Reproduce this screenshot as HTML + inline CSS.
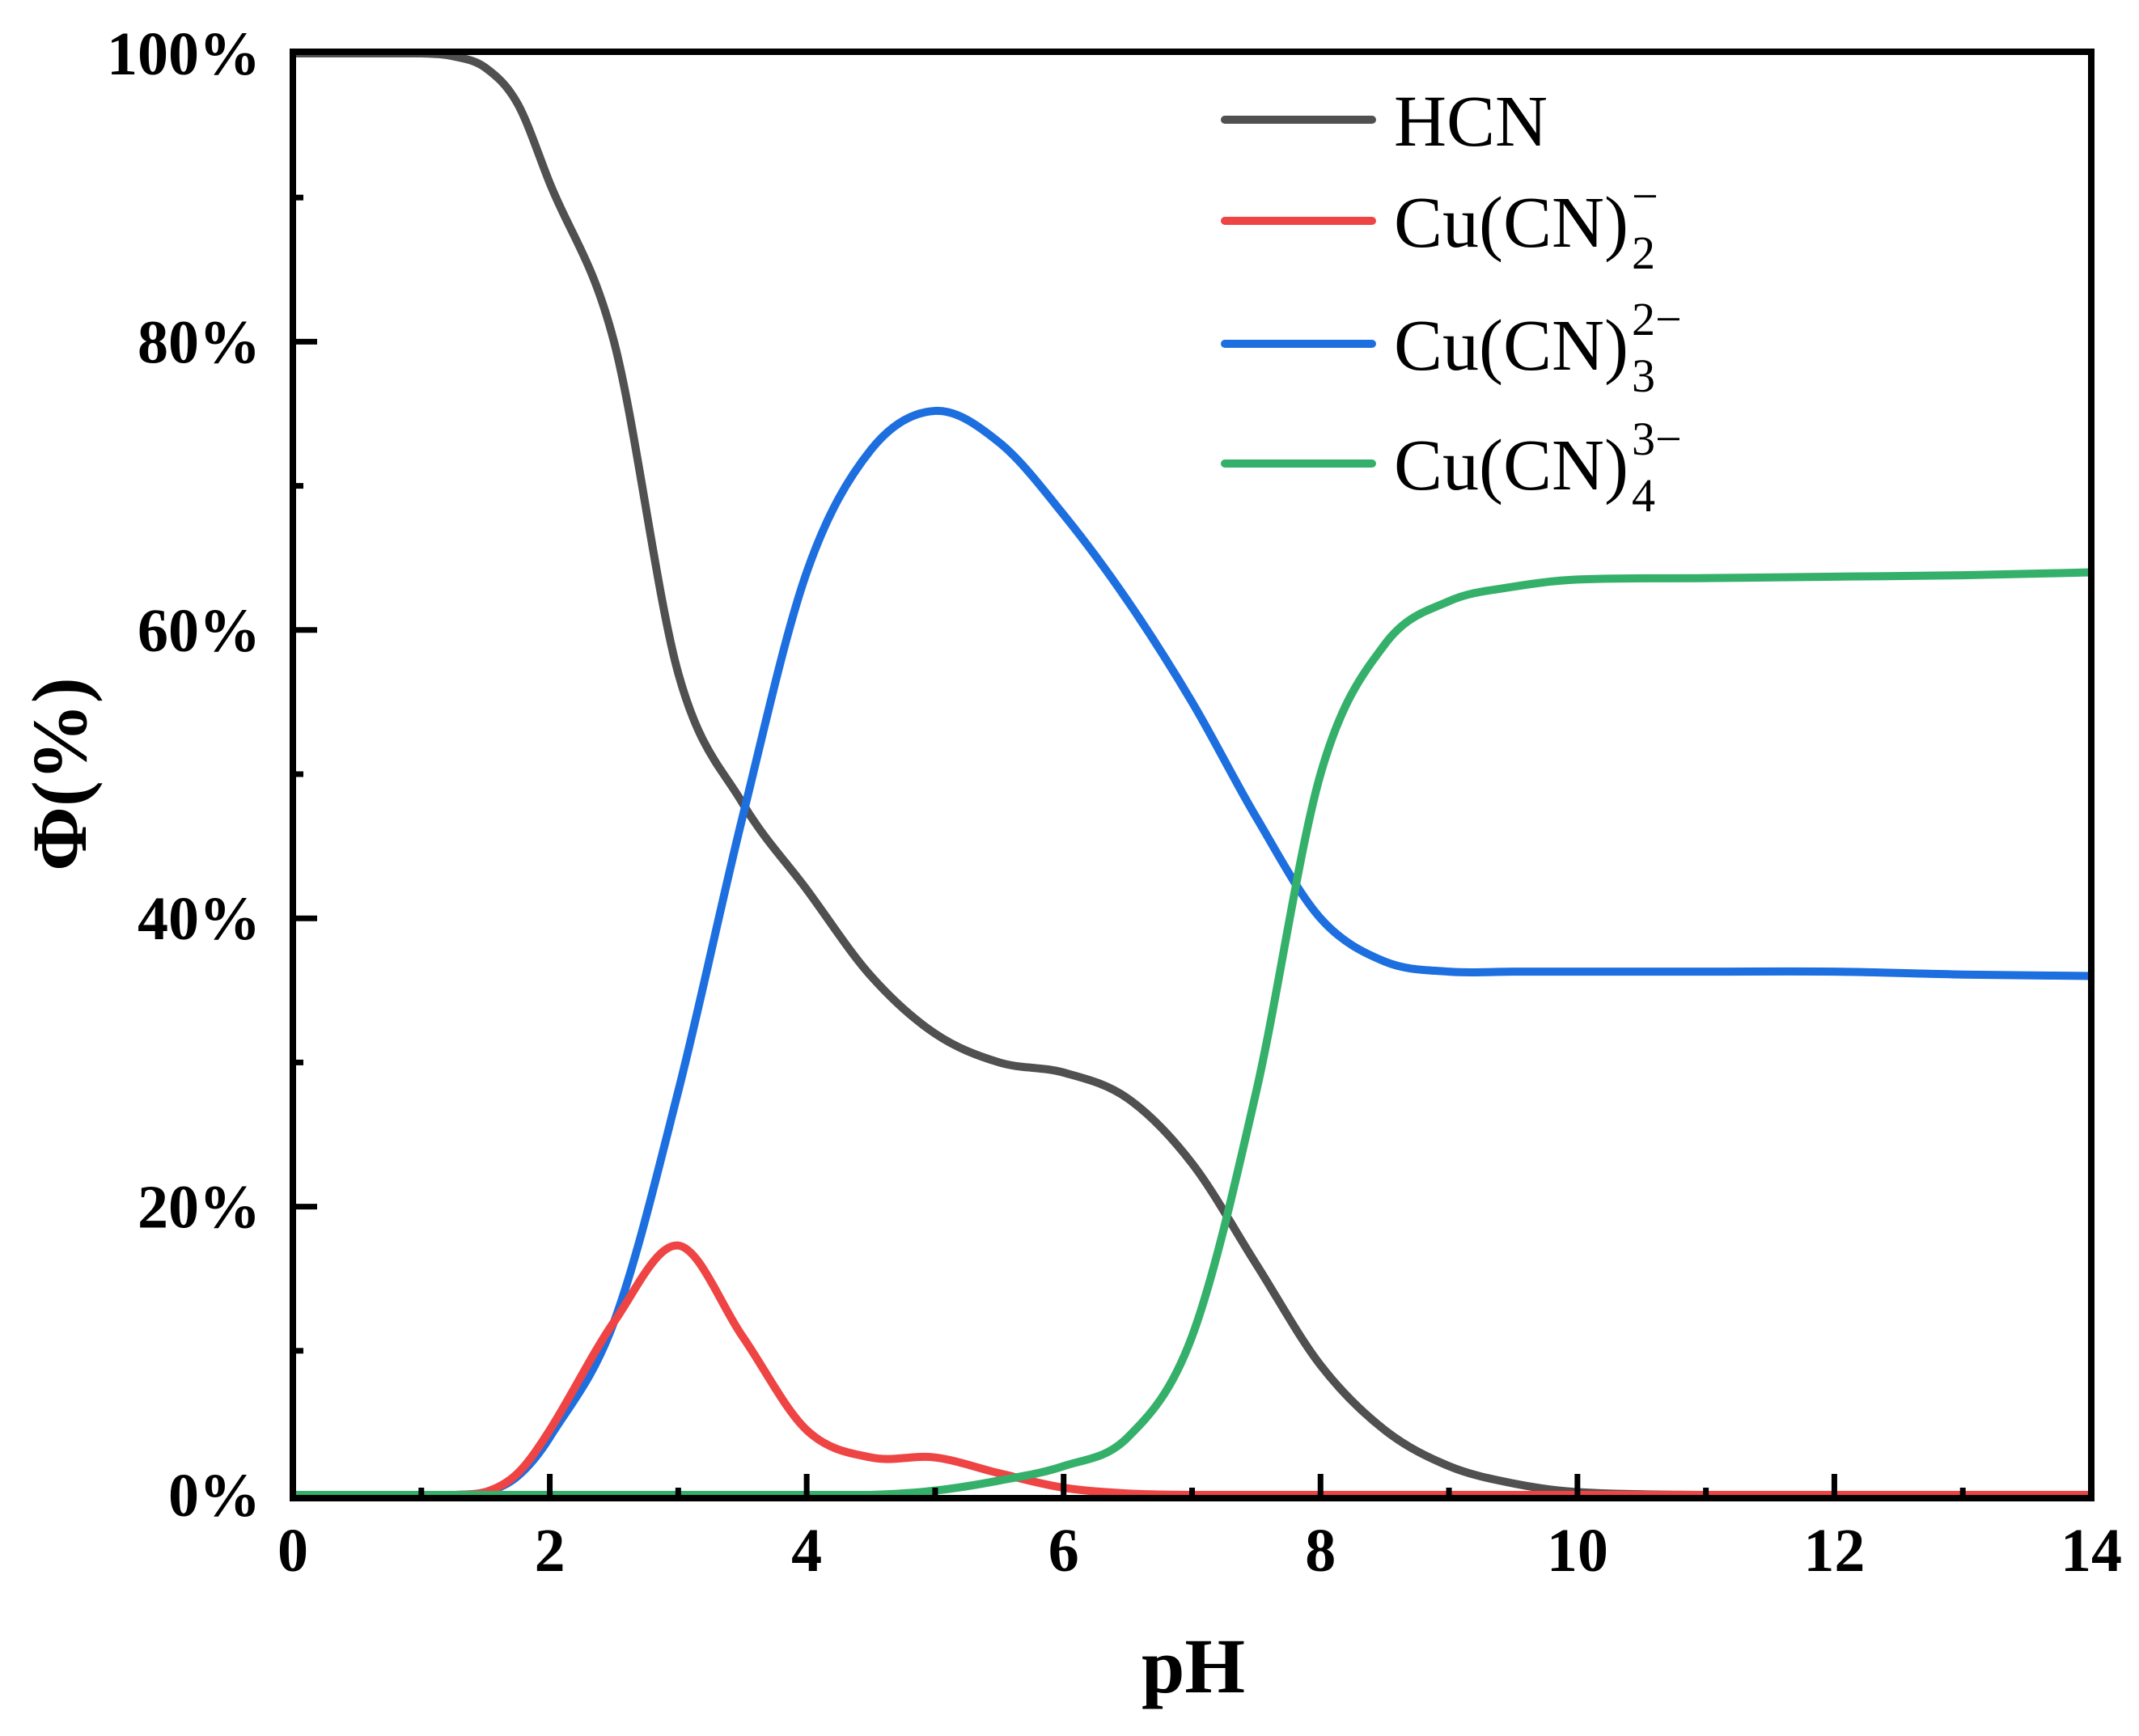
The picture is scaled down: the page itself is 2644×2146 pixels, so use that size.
<!DOCTYPE html>
<html><head><meta charset="utf-8"><style>
html,body{margin:0;padding:0;background:#fff;}
svg{display:block;font-family:"Liberation Serif","Times New Roman",serif;}
svg text{font-family:"Liberation Serif","Times New Roman",serif;}
</style></head><body>
<svg id="chart" width="2644" height="2146" viewBox="0 0 2644 2146" xmlns="http://www.w3.org/2000/svg" font-family="Liberation Serif, serif">
<g id="curves"></g>
<g id="axes"></g>
<text x="1475" y="2092" font-size="96" font-weight="bold" text-anchor="middle">pH</text>
<text transform="translate(106,957) rotate(-90)" font-size="96" font-weight="bold" text-anchor="middle">Φ(%)</text>
<g>
 <g>
  <line x1="1514" y1="148" x2="1696" y2="148" stroke="#505050" stroke-width="10" stroke-linecap="round"/>
  <text x="1723" y="180" font-size="90">HCN</text></g>
 <g>
  <line x1="1514" y1="273" x2="1696" y2="273" stroke="#ef4444" stroke-width="10" stroke-linecap="round"/>
  <text class="base" x="1723" y="305" font-size="90">Cu(CN)</text>
  <text class="sub" x="1990" y="332" font-size="58">2</text>
  <text class="sup" x="1990" y="262" font-size="58">−</text></g>
 <g>
  <line x1="1514" y1="425" x2="1696" y2="425" stroke="#1d6fe0" stroke-width="10" stroke-linecap="round"/>
  <text class="base" x="1723" y="457" font-size="90">Cu(CN)</text>
  <text class="sub" x="1990" y="484" font-size="58">3</text>
  <text class="sup" x="1990" y="414" font-size="58">2−</text></g>
 <g>
  <line x1="1514" y1="573" x2="1696" y2="573" stroke="#34b06a" stroke-width="10" stroke-linecap="round"/>
  <text class="base" x="1723" y="605" font-size="90">Cu(CN)</text>
  <text class="sub" x="1990" y="632" font-size="58">4</text>
  <text class="sup" x="1990" y="562" font-size="58">3−</text></g>
</g>
</svg>
<script>
const pH = [0,0.5,1,1.25,1.5,1.75,2,2.5,3,3.5,4,4.5,5,5.5,6,6.5,7,7.5,8,8.5,9,9.5,10,11,12,13,14];
const hcn = [100,100,100,99.8,99,96.5,91,80,57,48,42,36,32,30,29.3,27.5,23,16,9,4.5,2,0.8,0.2,0,0,0,0];
const cucn2 = [0,0,0,0,0.2,1.5,4.5,12,17.3,11,4.5,2.6,2.6,1.5,0.5,0.1,0,0,0,0,0,0,0,0,0,0,0];
const cucn3 = [0,0,0,0,0.2,1.3,4,12,28,47,64,72.5,75.2,73,68,62,55,47,40,37,36.3,36.3,36.3,36.3,36.3,36.1,36];
const cucn4 = [0,0,0,0,0,0,0,0,0,0,0,0,0.3,1,2,4,11,28,50,59,62,63,63.5,63.6,63.7,63.8,64];
const xTicks = [0,2,4,6,8,10,12,14];
const yTicks = [0,20,40,60,80,100];

const X0=362, X1=2585, Y0=1848, Y1=66;
const sx = v => X0 + (v-0)/(14-0)*(X1-X0);
const sy = v => Y0 - v/100*(Y0-Y1);
const NS='http://www.w3.org/2000/svg';
function smooth(xs, ys){
  const p = xs.map((x,i)=>[sx(x),sy(ys[i])]);
  let d='M'+p[0][0]+','+p[0][1];
  for(let i=0;i<p.length-1;i++){
    const a=p[Math.max(i-1,0)], b=p[i], c=p[i+1], e=p[Math.min(i+2,p.length-1)];
    const k1=(c[0]-b[0])/(c[0]-a[0]||1), k2=(c[0]-b[0])/(e[0]-b[0]||1);
    let c1=[b[0]+(c[0]-a[0])*k1/3, b[1]+(c[1]-a[1])*k1/3];
    let c2=[c[0]-(e[0]-b[0])*k2/3, c[1]-(e[1]-b[1])*k2/3];
    c1[1]=Math.max(Math.min(c1[1],Y0),Y1); c2[1]=Math.max(Math.min(c2[1],Y0),Y1);
    d+=' C'+c1+' '+c2+' '+c;
  }
  return d;
}
const curves=document.getElementById('curves');
const series=[['hcn-curve',hcn,'#505050'],['cucn3-curve',cucn3,'#1d6fe0'],['cucn2-curve',cucn2,'#ef4444'],['cucn4-curve',cucn4,'#34b06a']];
series.forEach(s=>{
  const path=document.createElementNS(NS,'path');
  path.setAttribute('d',smooth(pH,s[1]));
  path.setAttribute('fill','none');
  path.setAttribute('stroke',s[2]);
  path.setAttribute('stroke-width','10');
  
  
  curves.appendChild(path);
});
const axes=document.getElementById('axes');
const frame=document.createElementNS(NS,'rect');
frame.setAttribute('x',X0);frame.setAttribute('y',64);
frame.setAttribute('width',X1-X0);frame.setAttribute('height',1852-64);
frame.setAttribute('fill','none');frame.setAttribute('stroke','#000');frame.setAttribute('stroke-width','8');


axes.appendChild(frame);
function tick(x1,y1,x2,y2,name){
  const l=document.createElementNS(NS,'line');
  l.setAttribute('x1',x1);l.setAttribute('y1',y1);l.setAttribute('x2',x2);l.setAttribute('y2',y2);
  l.setAttribute('stroke','#000');l.setAttribute('stroke-width','7');
  
  
  axes.appendChild(l);
}
for(let v=1; v<14; v++){
  const major = v%2===0;
  tick(sx(v),1852,sx(v),1852-(major?30:13),'x-tick');
}
for(let v=10; v<100; v+=10){
  const major = v%20===0;
  tick(X0,sy(v),X0+(major?30:13),sy(v),'y-tick');
}
xTicks.forEach(v=>{
  const t=document.createElementNS(NS,'text');
  t.setAttribute('x',sx(v));t.setAttribute('y',1942);
  t.setAttribute('font-size','76');t.setAttribute('font-weight','bold');t.setAttribute('text-anchor','middle');
  t.textContent=v;
  
  
  axes.appendChild(t);
});
yTicks.forEach(v=>{
  const t=document.createElementNS(NS,'text');
  t.setAttribute('x',322);t.setAttribute('y',sy(v)+26);
  t.setAttribute('font-size','76');t.setAttribute('font-weight','bold');t.setAttribute('text-anchor','end');
  t.textContent=v+'%';
  
  
  axes.appendChild(t);
});
// place sub/superscripts right after base text
document.querySelectorAll('text.base').forEach(b=>{
  const end = 1723 + b.getComputedTextLength() + 4;
  const g = b.parentNode;
  g.querySelectorAll('text.sub, text.sup').forEach(t=>t.setAttribute('x', end));
});
</script>
</body></html>
